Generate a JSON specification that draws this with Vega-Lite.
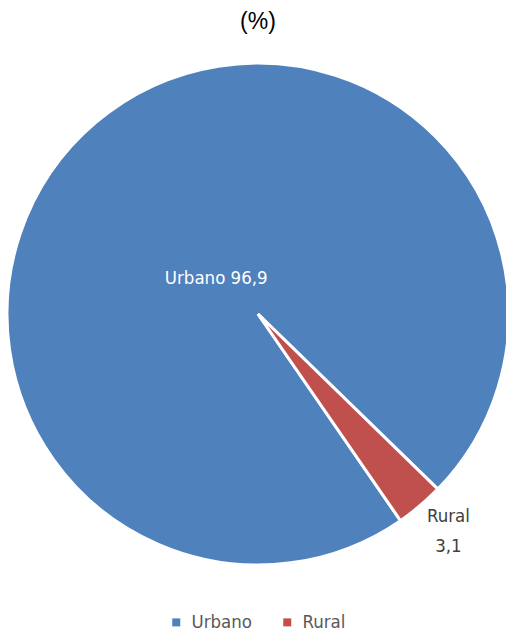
{
  "$schema": "https://vega.github.io/schema/vega-lite/v6.json",
  "width": 496,
  "height": 628,
  "autosize": {"type": "none"},
  "padding": {"left": 10, "top": 0, "right": 0, "bottom": 0},
  "background": "white",
  "title": {
    "text": "(%)",
    "font": "Liberation Sans",
    "fontSize": 23,
    "fontWeight": "normal",
    "color": "#000000",
    "anchor": "middle",
    "baseline": "bottom",
    "offset": -57
  },
  "data": {
    "values": [
      {"zone": "Urbano", "value": 96.9, "label": "Urbano 96,9"},
      {"zone": "Rural", "value": 3.1, "label": ["Rural", "3,1"]}
    ]
  },
  "encoding": {
    "theta": {"field": "value", "type": "quantitative", "stack": true, "scale": {"range": [2.538, 8.821]}},
    "order": {"field": "value", "sort": "descending"}
  },
  "layer": [
    {
      "mark": {"type": "arc", "outerRadius": 251, "stroke": "white", "strokeWidth": 3},
      "encoding": {
        "color": {
          "field": "zone",
          "type": "nominal",
          "scale": {"domain": ["Urbano", "Rural"], "range": ["#4F81BD", "#C0504D"]},
          "legend": {
            "title": null,
            "orient": "none",
            "direction": "horizontal",
            "legendX": 157,
            "legendY": 613,
            "symbolType": "square",
            "symbolSize": 64,
            "symbolStrokeWidth": 0,
            "labelFont": "DejaVu Sans Condensed",
            "labelFontSize": 18.5,
            "labelColor": "#595959",
            "columnPadding": 25,
            "labelOffset": 6
          }
        }
      }
    },
    {
      "mark": {"type": "text", "radius": 57, "dx": -5, "dy": 8, "font": "DejaVu Sans Condensed", "fontSize": 18.5, "color": "white"},
      "encoding": {
        "text": {"condition": {"test": "datum.zone === 'Urbano'", "field": "label"}, "value": ""}
      }
    },
    {
      "mark": {"type": "text", "radius": 289, "dx": 4, "dy": -19, "font": "DejaVu Sans Condensed", "fontSize": 18.5, "color": "#404040", "lineHeight": 30},
      "encoding": {
        "text": {"condition": {"test": "datum.zone === 'Rural'", "field": "label"}, "value": ""}
      }
    }
  ]
}
